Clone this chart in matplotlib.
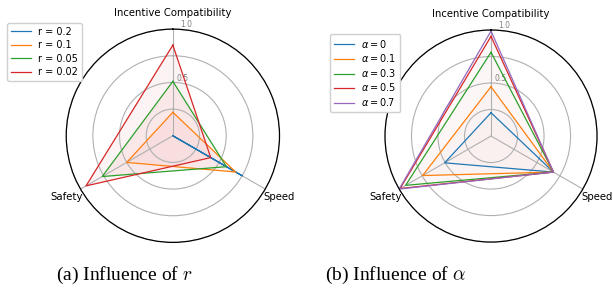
import numpy as np
import matplotlib.pyplot as plt

# ── Data ──────────────────────────────────────────────────────────────────────
CATEGORIES = ["Incentive Compatibility", "Safety", "Speed"]

R_LABELS = ["r = 0.2", "r = 0.1", "r = 0.05", "r = 0.02"]
R_VALUES = [
    [0.00, 0.00, 0.75],
    [0.22, 0.50, 0.68],
    [0.51, 0.765, 0.58],
    [0.85, 0.94, 0.41],
]

A_LABELS = [r"$\alpha = 0$", r"$\alpha = 0.1$", r"$\alpha = 0.3$",
            r"$\alpha = 0.5$", r"$\alpha = 0.7$"]
A_VALUES = [
    [0.22, 0.505, 0.68],
    [0.465, 0.745, 0.68],
    [0.79, 0.93, 0.68],
    [0.94, 0.99, 0.68],
    [0.99, 1.00, 0.68],
]

COLORS = ["tab:blue", "tab:orange", "tab:green", "tab:red", "tab:purple"]

fig = plt.figure(figsize=(6.13, 2.91), dpi=100)

angles = np.linspace(0, 2 * np.pi, len(CATEGORIES), endpoint=False)
closed = np.concatenate([angles, angles[:1]])


def radar(rect, labels, values, fill_alpha, legend_anchor, spacing):
    ax = fig.add_axes(rect, projection="polar")
    ax.set_theta_offset(np.pi / 2)
    ax.set_ylim(0, 1.0)
    for lab, vals, col in zip(labels, values, COLORS):
        v = list(vals) + [vals[0]]
        ax.plot(closed, v, color=col, linewidth=0.9, label=lab)
        ax.fill(closed, v, color="tab:red", alpha=fill_alpha, linewidth=0)
    ax.set_xticks(angles)
    ax.set_xticklabels(CATEGORIES, fontsize=7.3)
    ax.tick_params(axis="x", pad=1)
    ax.set_yticks([0.25, 0.5, 0.75, 1.0])
    ax.set_yticklabels(["", "0.5", "", "1.0"], fontsize=5.5, color="grey")
    ax.set_rlabel_position(-4)
    ax.grid(color="#b0b0b0", linewidth=0.8)
    ax.spines["polar"].set_linewidth(0.9)
    ax.legend(loc="upper left", bbox_to_anchor=legend_anchor,
              bbox_transform=fig.transFigure,
              prop={"size": 7, "math_fontfamily": "dejavusans"},
              handlelength=2.0, borderpad=0.4, labelspacing=spacing,
              framealpha=1.0, edgecolor="#d0d0d0")
    return ax


ax1 = radar([0.108, 0.167, 0.348, 0.733], R_LABELS, R_VALUES, 0.05,
            (0.004, 0.938), 0.35)
ax2 = radar([0.628, 0.168, 0.346, 0.729], A_LABELS, A_VALUES, 0.01,
            (0.531, 0.9), 0.26)

fig.text(0.203, 0.055, "(a) Influence of $r$", fontsize=14,
         family="Liberation Serif", math_fontfamily="cm",
         ha="center", va="center")
fig.text(0.645, 0.055, r"(b) Influence of $\alpha$", fontsize=14,
         family="Liberation Serif", math_fontfamily="cm",
         ha="center", va="center")

fig.savefig("out.png", dpi=100)
